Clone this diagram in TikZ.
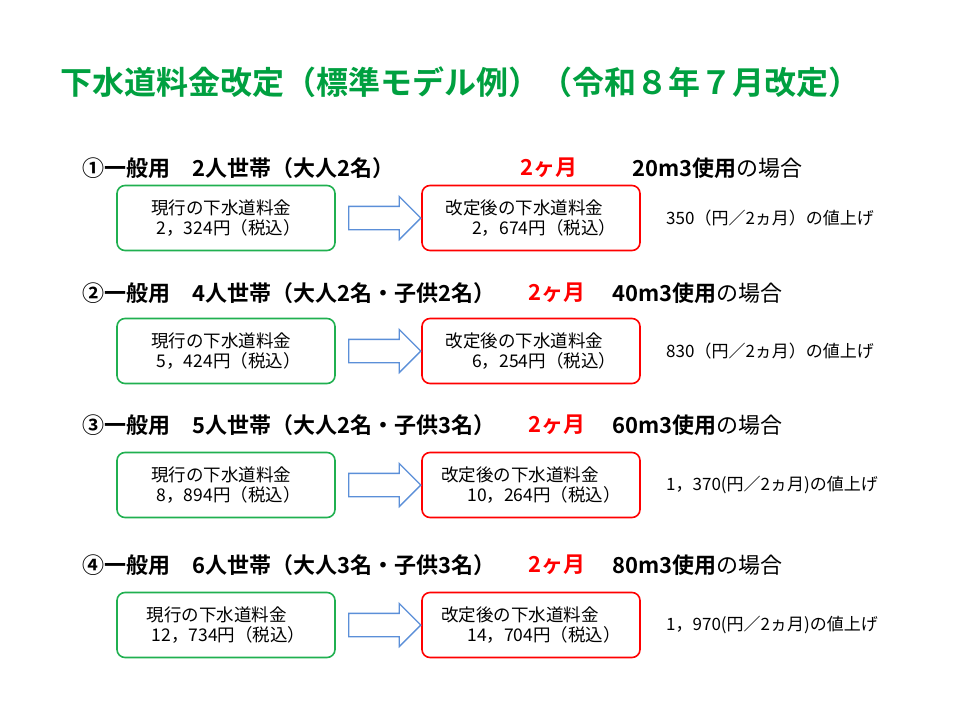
\documentclass[tikz,border=0pt]{standalone}
\usepackage{fontspec}
\setmainfont{Noto Sans CJK JP}[BoldFont={Noto Sans CJK JP Bold}]
\usetikzlibrary{shapes.arrows}
\definecolor{titlegreen}{HTML}{00A040}
\definecolor{boxgreen}{HTML}{20B050}
\definecolor{boxred}{HTML}{FF0000}
\definecolor{arrowblue}{HTML}{5B8FD8}
\tikzset{
    heading/.style={anchor=west, inner sep=0pt, font=\fontsize{22}{26}\selectfont},
    curbox/.style={draw=boxgreen, line width=1.6pt, rounded corners=8pt,
        minimum width=218pt, minimum height=65pt, align=left,
        font=\fontsize{17.5}{20}\selectfont},
    newbox/.style={curbox, draw=boxred},
    raise/.style={anchor=west, inner sep=0pt, font=\fontsize{17}{20}\selectfont},
    bigarrow/.style={single arrow, draw=arrowblue, line width=1.3pt, fill=white,
        single arrow head extend=10pt, minimum height=72pt, inner sep=0pt}
}
\begin{document}
\begin{tikzpicture}[x=1pt, y=-1pt]
\useasboundingbox (0,0) rectangle (960,720);
% title
\node (title) [anchor=west, inner sep=0pt, text=titlegreen,
    font=\bfseries\fontsize{32}{35}\selectfont] at (60,82)
    {下水道料金改定（標準モデル例）（令和８年７月改定）};
% headings
\node (head1) [heading] at (82,168) {\bfseries ①一般用　2人世帯（大人2名）};
\node (mon1) [heading, text=boxred] at (520,168) {\bfseries 2ヶ月};
\node (use1) [heading] at (632,168) {\bfseries 20m3使用\mdseries の場合};
\node (head2) [heading] at (82,293) {\bfseries ②一般用　4人世帯（大人2名・子供2名）};
\node (mon2) [heading, text=boxred] at (528,293) {\bfseries 2ヶ月};
\node (use2) [heading] at (612,293) {\bfseries 40m3使用\mdseries の場合};
\node (head3) [heading] at (82,425) {\bfseries ③一般用　5人世帯（大人2名・子供3名）};
\node (mon3) [heading, text=boxred] at (528,425) {\bfseries 2ヶ月};
\node (use3) [heading] at (612,425) {\bfseries 60m3使用\mdseries の場合};
\node (head4) [heading] at (82,565) {\bfseries ④一般用　6人世帯（大人3名・子供3名）};
\node (mon4) [heading, text=boxred] at (528,565) {\bfseries 2ヶ月};
\node (use4) [heading] at (612,565) {\bfseries 80m3使用\mdseries の場合};
% boxes
\foreach \i/\y/\cur/\new/\up in {
    1/218/2，324/2，674/350（円／2ヵ月）の値上げ,
    2/351/5，424/6，254/830（円／2ヵ月）の値上げ,
    3/485/8，894/10，264/1，370(円／2ヵ月)の値上げ,
    4/625/12，734/14，704/1，970(円／2ヵ月)の値上げ} {
    \node (cur\i) [curbox] at (226,\y) {現行の下水道料金\\\hspace{0.3em}\cur 円（税込）};
    \node (new\i) [newbox] at (531,\y) {改定後の下水道料金\\\hspace{1.5em}\new 円（税込）};
    \node (arr\i) [bigarrow] at (379,\y) {\rule{0pt}{22pt}};
    \node (up\i) [raise] at (666,\y) {\up};
}
\end{tikzpicture}
\end{document}
